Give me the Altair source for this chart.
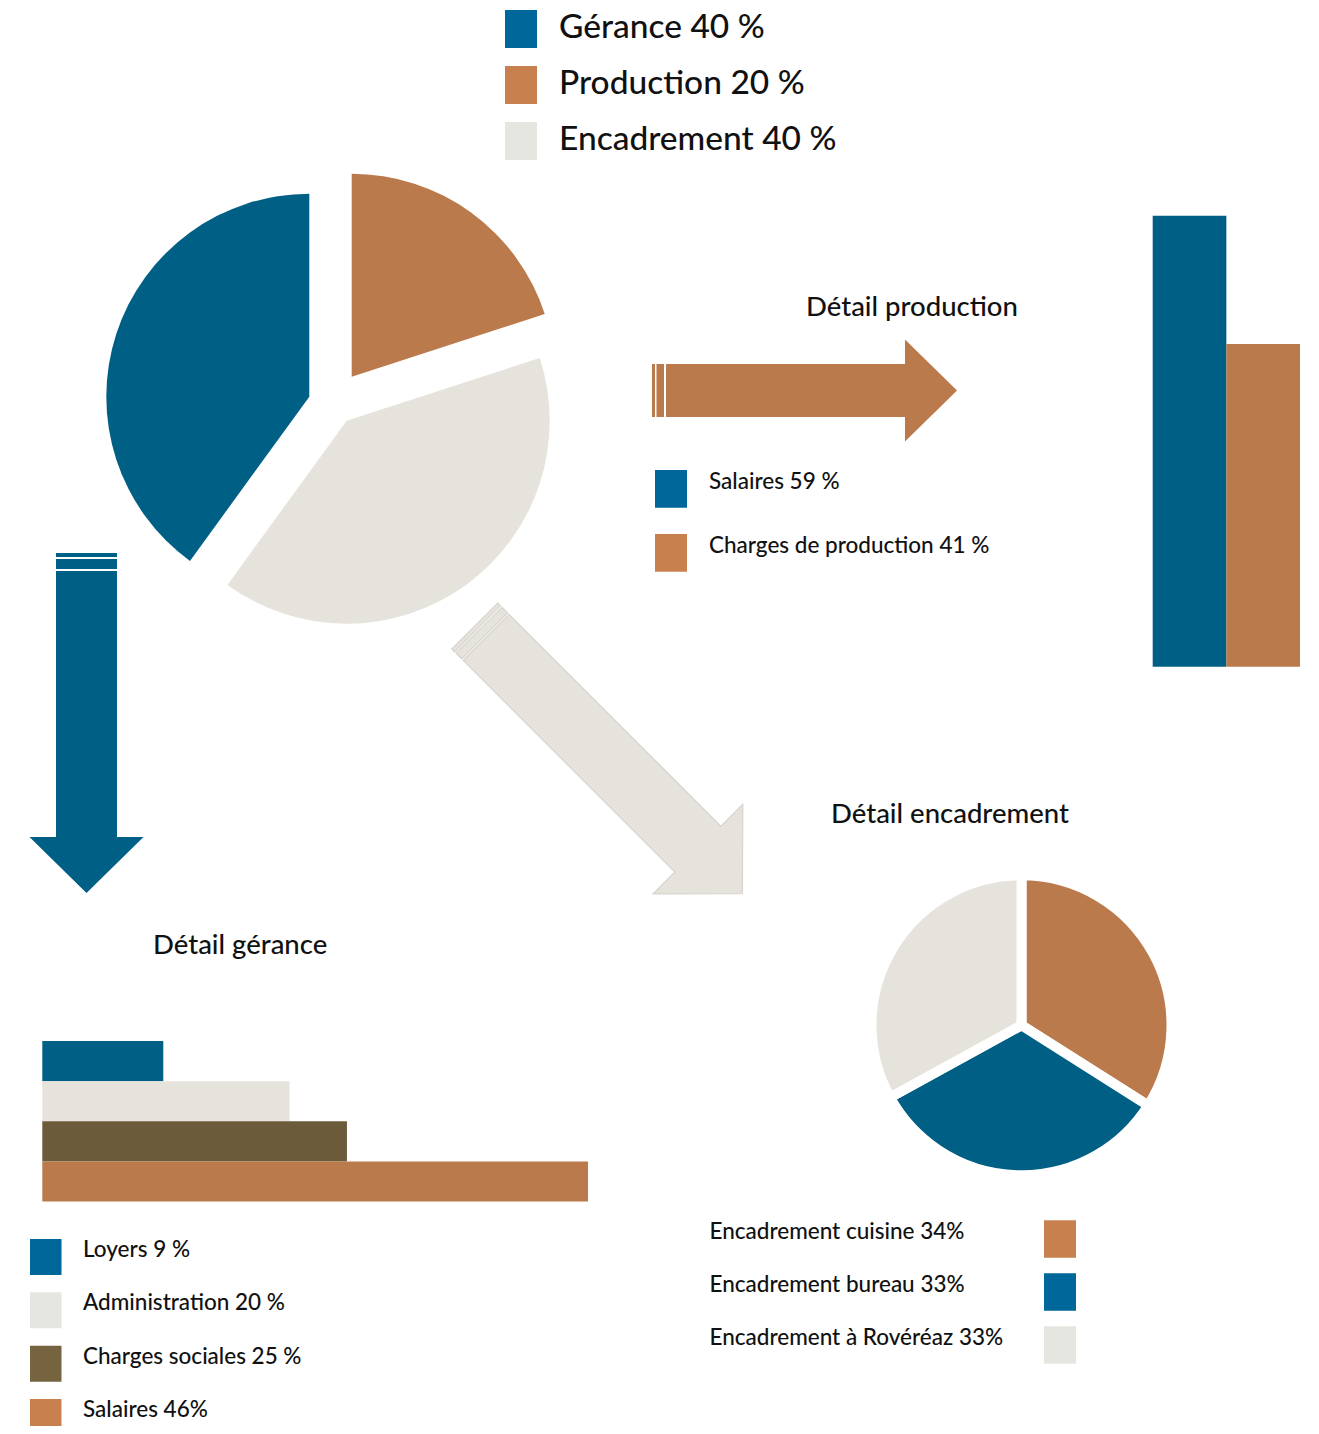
import math
import altair as alt
import pandas as pd

# ---------------- data ----------------
main_cats = ["Gérance", "Production", "Encadrement"]
main_vals = [40, 20, 40]
main_labels = ["Gérance 40 %", "Production 20 %", "Encadrement 40 %"]
main_clockwise = ["Production", "Encadrement", "Gérance"]  # slice order from 12 o'clock

prod_cats = ["Salaires", "Charges de production"]
prod_vals = [59, 41]
prod_labels = ["Salaires 59 %", "Charges de production 41 %"]

ger_cats = ["Loyers", "Administration", "Charges sociales", "Salaires"]
ger_vals = [9, 20, 25, 46]
ger_labels = ["Loyers 9 %", "Administration 20 %", "Charges sociales 25 %", "Salaires 46%"]

enc_cats = ["Encadrement cuisine", "Encadrement bureau", "Encadrement à Rovéréaz"]
enc_vals = [34, 33, 33]
enc_labels = ["Encadrement cuisine 34%", "Encadrement bureau 33%", "Encadrement à Rovéréaz 33%"]

title_prod = "Détail production"
title_ger = "Détail gérance"
title_enc = "Détail encadrement"

# ---------------- styles ----------------
BLUE = "#005f85"
ORANGE = "#bb7a4c"
LIGHT = "#e6e3dd"
OLIVE = "#6b5b3b"
LEG_BLUE = "#00679a"
LEG_ORANGE = "#c8804f"
LEG_LIGHT = "#e6e6e0"
LEG_OLIVE = "#766441"
FONT = "Lato"
INK = "#111111"
MARGIN = 8


def P(v):
    return v - MARGIN


one_row = pd.DataFrame({"k": [0]})
layers = []

# ---------------- arrows (decoration) ----------------
def arrow_shape(L, w, hw, hl, stripes, body_start):
    s = L / 2.0

    def X(d):
        return f"{-1 + d / s:.4f}"

    def Y(v):
        return f"{v / s:.4f}"

    parts = []
    for d0, d1 in stripes:
        parts.append(
            f"M{X(d0)},{Y(-w/2)}L{X(d1)},{Y(-w/2)}L{X(d1)},{Y(w/2)}L{X(d0)},{Y(w/2)}Z"
        )
    hb = L - hl
    pts = [(body_start, -w / 2), (hb, -w / 2), (hb, -hw / 2), (L, 0),
           (hb, hw / 2), (hb, w / 2), (body_start, w / 2)]
    parts.append("M" + "L".join(f"{X(a)},{Y(b)}" for a, b in pts) + "Z")
    return "".join(parts)


def arrow(L, w, hw, hl, stripes, body_start, cx, cy, angle, fill, stroke=None):
    props = dict(shape=arrow_shape(L, w, hw, hl, stripes, body_start), size=L * L,
                 angle=angle, filled=True, fill=fill, opacity=1, fillOpacity=1)
    if stroke:
        props.update(stroke=stroke, strokeWidth=1.2, strokeOpacity=1)
    else:
        props.update(strokeWidth=0)
    return alt.Chart(one_row).mark_point(**props).encode(
        x=alt.value(P(cx)), y=alt.value(P(cy)))


layers.append(arrow(305, 53, 102, 52, [(0, 3), (4.5, 12)], 14, 804.5, 390.5, 0, ORANGE))
layers.append(arrow(340, 61, 114, 56, [(0, 4), (6, 16)], 18, 86.5, 723, 90, BLUE))
layers.append(arrow(378.5, 65, 127, 63, [(0, 4), (6, 14)], 16, 608.6, 759.8, 45, LIGHT,
                    stroke="#d7d4cd"))

# ---------------- main exploded pie ----------------
val_of = dict(zip(main_cats, main_vals))
starts, ends, acc = [], [], 0
for c in main_clockwise:
    starts.append(acc)
    acc += val_of[c]
    ends.append(acc)
pie_df = pd.DataFrame({"cat": main_clockwise, "start": starts, "end": ends})
total = sum(main_vals)
slice_apex = {"Gérance": (309.3, 396.7), "Production": (351.7, 376.7),
              "Encadrement": (346.7, 420.7)}
main_color = alt.Color("cat:N", scale=alt.Scale(domain=main_cats, range=[BLUE, ORANGE, LIGHT]),
                       legend=None)
for c in main_clockwise:
    cx, cy = slice_apex[c]
    layers.append(
        alt.Chart(pie_df).transform_filter(alt.datum.cat == c).mark_arc(outerRadius=203).encode(
            theta=alt.Theta("start:Q", stack=None,
                            scale=alt.Scale(domain=[0, total], range=[0, 2 * math.pi], nice=False)),
            theta2="end:Q",
            color=main_color,
            x=alt.value(P(cx)), y=alt.value(P(cy)),
        )
    )

# ---------------- encadrement pie ----------------
enc_df = pd.DataFrame({"cat": enc_cats, "value": enc_vals, "rank": list(range(len(enc_cats)))})
layers.append(
    alt.Chart(enc_df).mark_arc(outerRadius=150, stroke="white", strokeWidth=10).encode(
        theta=alt.Theta("value:Q", stack=True),
        order=alt.Order("rank:Q"),
        color=alt.Color("cat:N", scale=alt.Scale(domain=enc_cats, range=[ORANGE, BLUE, LIGHT]),
                        legend=None),
        x=alt.value(P(1021.5)), y=alt.value(P(1025.2)),
    )
)

# ---------------- production bars ----------------
prod_df = pd.DataFrame({"cat": prod_cats, "value": prod_vals})
layers.append(
    alt.Chart(prod_df).mark_bar().encode(
        x=alt.X("cat:N", axis=None,
                scale=alt.Scale(type="band", domain=prod_cats, range=[P(1152.7), P(1300)],
                                paddingInner=0, paddingOuter=0)),
        y=alt.Y("value:Q", axis=None, stack=None,
                scale=alt.Scale(domain=[41, 59], range=[P(344), P(215.7)], nice=False, zero=False)),
        y2=alt.value(P(666.7)),
        color=alt.Color("cat:N", scale=alt.Scale(domain=prod_cats, range=[BLUE, ORANGE]), legend=None),
    )
)

# ---------------- gérance bars ----------------
ger_df = pd.DataFrame({"cat": ger_cats, "value": ger_vals})
layers.append(
    alt.Chart(ger_df).mark_bar().encode(
        y=alt.Y("cat:N", axis=None,
                scale=alt.Scale(type="band", domain=ger_cats, range=[P(1041), P(1201.5)],
                                paddingInner=0, paddingOuter=0)),
        x=alt.X("value:Q", axis=None, stack=None,
                scale=alt.Scale(domain=[9, 46], range=[P(163.3), P(588)], nice=False, zero=False)),
        x2=alt.value(P(42.3)),
        color=alt.Color("cat:N", scale=alt.Scale(domain=ger_cats, range=[BLUE, LIGHT, OLIVE, ORANGE]),
                        legend=None),
    )
)

# ---------------- legends ----------------
def legend(cats, labels, colors, x0, x1, xt, c_first, c_last, sq_h, font_size, dy=0):
    n = len(cats)
    step = (c_last - c_first) / (n - 1)
    pin = 1 - sq_h / step
    df = pd.DataFrame({"cat": cats, "label": labels})
    band = alt.Scale(type="band", domain=cats,
                     range=[P(c_first - step / 2), P(c_last + step / 2)],
                     paddingInner=pin, paddingOuter=pin / 2)
    point = alt.Scale(type="point", domain=cats, range=[P(c_first), P(c_last)], padding=0)
    sq = alt.Chart(df).mark_rect().encode(
        y=alt.Y("cat:N", scale=band, axis=None),
        x=alt.value(P(x0)), x2=alt.value(P(x1)),
        color=alt.Color("cat:N", scale=alt.Scale(domain=cats, range=colors), legend=None),
    )
    tx = alt.Chart(df).mark_text(align="left", baseline="alphabetic", dy=dy, font=FONT,
                                 fontSize=font_size, fontWeight=500, color=INK).encode(
        y=alt.Y("cat:N", scale=point, axis=None),
        x=alt.value(P(xt)),
        text="label:N",
    )
    return [sq, tx]


layers += legend(main_cats, main_labels, [LEG_BLUE, LEG_ORANGE, LEG_LIGHT],
                 505, 537, 559, 29, 141, 38, 33.5, dy=9)
layers += legend(prod_cats, prod_labels, [LEG_BLUE, LEG_ORANGE],
                 655, 687, 709, 488.9, 552.9, 37.7, 22.5)
layers += legend(ger_cats, ger_labels, [LEG_BLUE, LEG_LIGHT, LEG_OLIVE, LEG_ORANGE],
                 30, 61.5, 83, 1257, 1417, 36, 22.5)
layers += legend(enc_cats, enc_labels, [LEG_ORANGE, LEG_BLUE, LEG_LIGHT],
                 1044, 1076, 709.5, 1238.9, 1345, 37.5, 22.5)

# ---------------- titles ----------------
def title(txt, x, y_base, size):
    return alt.Chart(pd.DataFrame({"t": [txt]})).mark_text(
        align="left", baseline="alphabetic", font=FONT, fontSize=size, fontWeight=500, color=INK
    ).encode(x=alt.value(P(x)), y=alt.value(P(y_base)), text="t:N")


layers.append(title(title_prod, 806, 316, 27.5))
layers.append(title(title_enc, 831, 823, 27.5))
layers.append(title(title_ger, 153, 954, 27.5))

chart = alt.layer(*layers).resolve_scale(
    x="independent", y="independent", color="independent", theta="independent"
).properties(
    width=1303, height=1418, padding=0, autosize=alt.AutoSizeParams(type="none")
).configure_view(strokeWidth=0, strokeOpacity=0)

chart.save("out.html", embed_options={"renderer": "svg", "actions": False})
